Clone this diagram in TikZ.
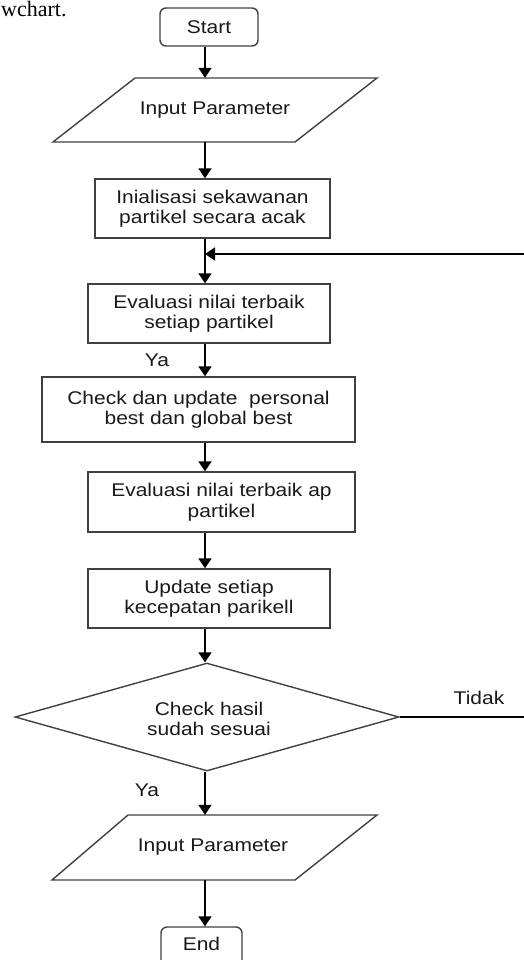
\documentclass[tikz,border=0pt]{standalone}
\usepackage{fontspec}
\setmainfont[FakeStretch=1.14]{Liberation Sans}
\newfontfamily\serifcut{Liberation Serif}
\usetikzlibrary{arrows.meta,shapes.geometric}
\begin{document}
\begin{tikzpicture}[x=1pt,y=-1pt,
  txt/.style={font=\fontsize{18.4}{20.5}\selectfont, text=black!90, align=center},
  box/.style={txt, draw=black!75, line width=1.4pt, rectangle, inner sep=0pt},
  term/.style={box, rounded corners=6pt},
  para/.style={draw=black!75, line width=1.4pt},
  conn/.style={line width=1.8pt, black},
  arr/.style={conn, -{Triangle[length=10pt,width=13pt]}},
  lab/.style={font=\fontsize{18.4}{20.5}\selectfont, text=black!90}]
\useasboundingbox (0,0) rectangle (524,960);
% fragment of caption text above the figure
\node[font=\serifcut\fontsize{22}{24}\selectfont, anchor=base west, inner sep=0pt] (cap) at (1,17) {wchart.};
\coordinate (ax) at (205,0);
% Start
\node[term, minimum width=98pt, minimum height=38pt] (start) at (209,27) {Start};
% Input Parameter 1
\draw[para] (135,78) -- (377,78) -- (295,142) -- (53,142) -- cycle;
\node[txt, minimum height=64pt, inner sep=0pt] (in1) at (215,110) {Input Parameter};
% process boxes
\node[box, minimum width=235pt, minimum height=59pt] (init) at (212.5,208.5) {Inialisasi sekawanan\\partikel secara acak};
\coordinate (join) at (205,254);
\node[box, minimum width=242pt, minimum height=59pt] (eval1) at (209,313.5) {Evaluasi nilai terbaik\\setiap partikel};
\node[box, minimum width=313pt, minimum height=65pt] (check) at (198.5,409.5) {Check dan update\ \ personal\\best dan global best};
\node[box, minimum width=267pt, minimum height=60pt] (eval2) at (221.5,502) {Evaluasi nilai terbaik ap\\partikel};
\node[box, minimum width=242pt, minimum height=59pt] (upd) at (209,598.5) {Update setiap\\kecepatan parikell};
% decision
\node[txt, diamond, draw=black!75, line width=1.4pt, inner sep=0pt, minimum width=384pt, minimum height=108pt] (dec) at (207,717) {};
\node[txt] (dectxt) at (209,719) {Check hasil\\sudah sesuai};
% Input Parameter 2
\draw[para] (128,815) -- (377,815) -- (295,880) -- (52,880) -- cycle;
\node[txt, minimum height=65pt, inner sep=0pt] (in2) at (213,847.5) {Input Parameter};
% End
\node[term, minimum width=81pt, minimum height=42pt] (end) at (201.5,948) {};
\node[txt] (endtxt) at (201.5,944) {End};
% labels
\node[lab] (ya1) at (157,360) {Ya};
\node[lab] (ya2) at (147,790) {Ya};
\node[lab] (tidak) at (479,698) {Tidak};
% connectors
\draw[arr] (start.south -| ax) -- (in1.north -| ax);
\draw[arr] (in1.south -| ax) -- (init.north -| ax);
\draw[arr] (init.south -| ax) -- (eval1.north -| ax);
\draw[arr] (eval1.south -| ax) -- (check.north -| ax);
\draw[arr] (check.south -| ax) -- (eval2.north -| ax);
\draw[arr] (eval2.south -| ax) -- (upd.north -| ax);
\draw[arr] (upd.south -| ax) -- (dec.north -| ax);
\draw[arr] (dec.south -| ax) -- (in2.north -| ax);
\draw[arr] (in2.south -| ax) -- (end.north -| ax);
\draw[arr] (dec.east) -- (560,717) |- (join);
\end{tikzpicture}
\end{document}
